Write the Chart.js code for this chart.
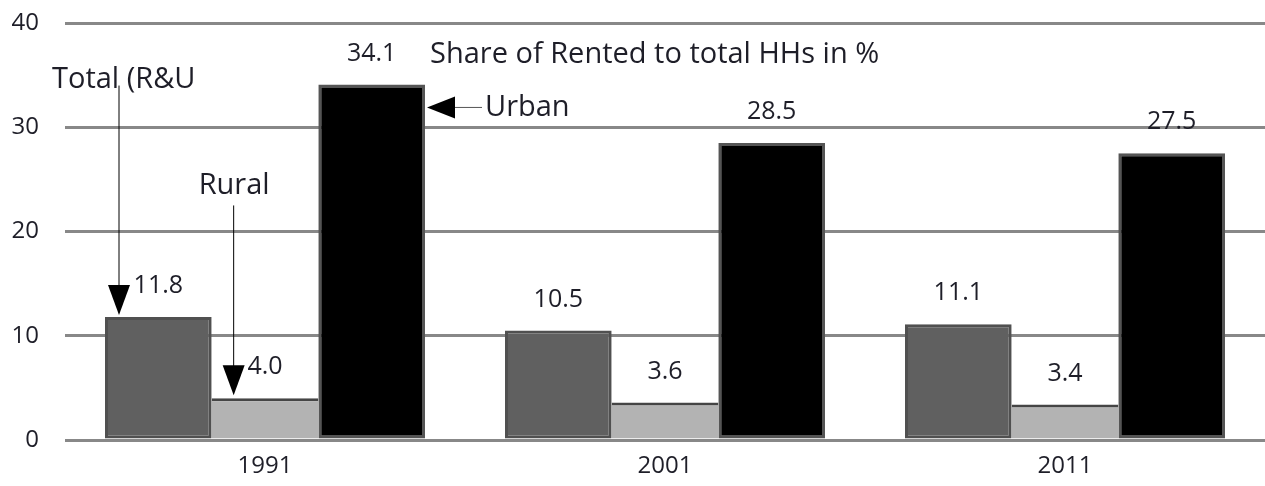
<!DOCTYPE html>
<html><head><meta charset="utf-8">
<script src="https://cdn.jsdelivr.net/npm/chart.js@4/dist/chart.umd.min.js"></script>
<style>html,body{margin:0;padding:0;background:#fff}#wrap{width:1265px;height:486px}</style>
</head><body><div id="wrap"><canvas id="c" width="1265" height="486"></canvas></div>
<script>
const categories = ['1991', '2001', '2011'];
const totalRU = [11.8, 10.5, 11.1];
const rural = [4.0, 3.6, 3.4];
const urban = [34.1, 28.5, 27.5];
const yTicks = [0, 10, 20, 30, 40];
const chartTitle = 'Share of Rented to total HHs in %';
const seriesNames = ['Total (R&U', 'Rural', 'Urban'];

const FONT = '"Open Sans", sans-serif';
const TXT = '#1e1e28';

const annot = {
  id: 'annot',
  afterDatasetsDraw(chart) {
    const ctx = chart.ctx;
    const ys = chart.scales.y;
    ctx.save();
    ctx.fillStyle = TXT;
    ctx.font = '25px ' + FONT;
    ctx.textAlign = 'center';
    ctx.textBaseline = 'middle';
    // value labels
    chart.data.datasets.forEach((ds, di) => {
      const meta = chart.getDatasetMeta(di);
      meta.data.forEach((bar, i) => {
        ctx.fillText(ds.data[i].toFixed(1), bar.x, bar.y - 31);
      });
    });
    // title
    ctx.font = '29px ' + FONT;
    ctx.textAlign = 'left';
    const u0 = chart.getDatasetMeta(2).data[0];
    ctx.fillText(chartTitle, u0.x + u0.width / 2 + 5, ys.getPixelForValue(37.0));
    // annotations with arrows
    const t0 = chart.getDatasetMeta(0).data[0];
    const r0 = chart.getDatasetMeta(1).data[0];
    ctx.strokeStyle = '#000';
    ctx.lineWidth = 1;
    function downArrow(x, yFrom, yTip) {
      ctx.beginPath(); ctx.moveTo(x, yFrom); ctx.lineTo(x, yTip - 28); ctx.stroke();
      ctx.beginPath(); ctx.moveTo(x - 11, yTip - 30); ctx.lineTo(x + 11, yTip - 30); ctx.lineTo(x, yTip); ctx.closePath(); ctx.fill();
    }
    const tx = t0.x - t0.width / 2 + 14;
    ctx.font = '29px ' + FONT;
    ctx.fillStyle = TXT;
    ctx.fillText(seriesNames[0], tx - 67, ys.getPixelForValue(34.6));
    ctx.fillStyle = '#000';
    downArrow(tx, ys.getPixelForValue(34.0), t0.y - 2);
    const rx = r0.x - r0.width / 2 + 22;
    ctx.fillStyle = TXT;
    ctx.fillText(seriesNames[1], rx - 35, ys.getPixelForValue(24.4));
    ctx.fillStyle = '#000';
    downArrow(rx, ys.getPixelForValue(22.5), r0.y - 3);
    // urban arrow (left-pointing)
    const ux = u0.x + u0.width / 2 + 2;
    const uy = ys.getPixelForValue(31.9);
    ctx.strokeStyle = '#555';
    ctx.beginPath(); ctx.moveTo(ux + 26, uy); ctx.lineTo(ux + 55, uy); ctx.stroke();
    ctx.beginPath(); ctx.moveTo(ux, uy); ctx.lineTo(ux + 28, uy - 11); ctx.lineTo(ux + 28, uy + 11); ctx.closePath(); ctx.fill();
    ctx.fillStyle = TXT;
    ctx.fillText(seriesNames[2], ux + 58, uy);
    ctx.restore();
  }
};

new Chart(document.getElementById('c'), {
  type: 'bar',
  data: {
    labels: categories,
    datasets: [
      { label: seriesNames[0], data: totalRU, backgroundColor: '#606060', borderColor: '#505050', borderWidth: 3 },
      { label: seriesNames[1], data: rural, backgroundColor: '#b3b3b3', borderColor: '#454545', borderWidth: { top: 3, left: 0, right: 0, bottom: 0 } },
      { label: seriesNames[2], data: urban, backgroundColor: '#000000', borderColor: '#555555', borderWidth: 3 }
    ]
  },
  options: {
    responsive: false,
    animation: false,
    devicePixelRatio: 1,
    layout: { padding: { top: 23, right: 0, left: 0, bottom: 0 } },
    plugins: { legend: { display: false }, tooltip: { enabled: false }, title: { display: false } },
    datasets: { bar: { categoryPercentage: 0.8, barPercentage: 1.0, borderSkipped: false } },
    scales: {
      x: {
        grid: { display: false, drawTicks: false },
        border: { display: false },
        ticks: { color: TXT, font: { family: FONT, size: 24 }, padding: 12 },
        afterFit(s) { s.height = 46; s.paddingLeft = 0; s.paddingRight = 0; }
      },
      y: {
        min: 0, max: 40,
        afterBuildTicks(s) { s.ticks = yTicks.map(v => ({ value: v })); },
        grid: { color: '#888', lineWidth: 3, drawTicks: false },
        border: { display: false },
        ticks: { color: TXT, font: { family: FONT, size: 24 }, padding: 26 },
        afterFit(s) { s.width = 65; s.paddingTop = 0; s.paddingBottom = 0; }
      }
    }
  },
  plugins: [annot]
});
</script>
</body></html>
